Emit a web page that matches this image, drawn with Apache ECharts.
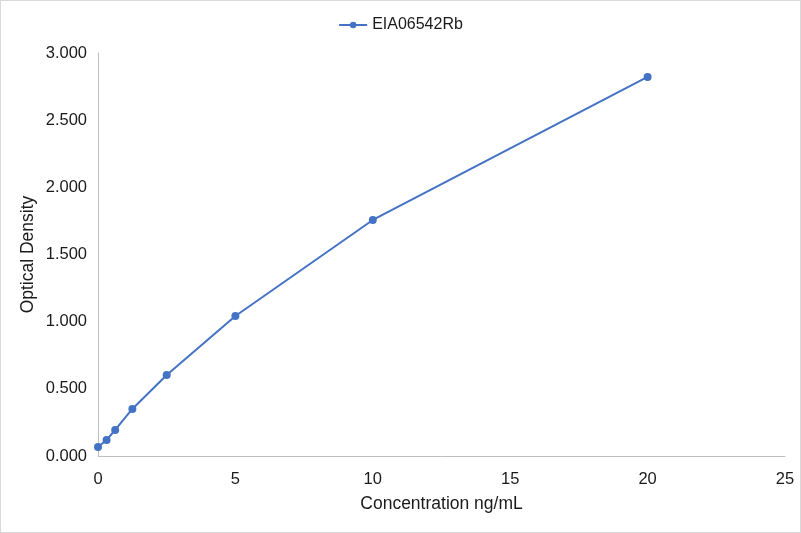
<!DOCTYPE html>
<html>
<head>
<meta charset="UTF-8">
<title>index</title>
<script src="https://cdn.jsdelivr.net/npm/echarts@6/dist/echarts.min.js"></script>
<style>
	html, body { margin: 0; padding: 0; background: #fff; }
	#main { width: 799px; height: 531px; border: 1px solid #d9d9d9; }
</style>
</head>
<body>
<div id="main"></div>
<script>
	const seriesName = 'EIA06542Rb'
	const concentration = [0, 0.3125, 0.625, 1.25, 2.5, 5, 10, 20]
	const density = [0.067, 0.119, 0.194, 0.350, 0.603, 1.042, 1.757, 2.822]

	let points = []
	for (let i = 0; i < concentration.length; i++) {
		points.push([concentration[i], density[i]])
	}

	let chart = echarts.init(document.getElementById('main'))
	let font = 'Liberation Sans, Arial, sans-serif'
	let txt = '#1a1a1a'
	chart.setOption({
		animation: false,
		legend: {
			top: 11,
			left: 'center',
			itemWidth: 28,
			itemHeight: 8,
			itemGap: 6,
			textStyle: { fontFamily: font, fontSize: 16, color: txt },
			data: [seriesName]
		},
		grid: { left: 97, right: 15, top: 52, bottom: 76 },
		xAxis: {
			type: 'value',
			min: 0, max: 25, interval: 5,
			name: 'Concentration ng/mL',
			nameLocation: 'middle',
			nameGap: 39,
			nameTextStyle: { fontFamily: font, fontSize: 17.5, color: txt },
			axisLine: { lineStyle: { color: '#bfbfbf' } },
			axisTick: { show: false },
			splitLine: { show: false },
			axisLabel: { fontFamily: font, fontSize: 16.5, color: txt, margin: 15 }
		},
		yAxis: {
			type: 'value',
			min: 0, max: 3, interval: 0.5,
			name: 'Optical Density',
			nameLocation: 'middle',
			nameGap: 61,
			nameMoveOverlap: false,
			nameTextStyle: { fontFamily: font, fontSize: 17.5, color: txt },
			axisLine: { show: true, lineStyle: { color: '#bfbfbf' } },
			axisTick: { show: false },
			splitLine: { show: false },
			axisLabel: {
				fontFamily: font, fontSize: 16.5, color: txt, margin: 11,
				formatter: v => v.toFixed(3)
			}
		},
		series: [{
			name: seriesName,
			type: 'line',
			data: points,
			symbol: 'circle',
			symbolSize: 8,
			itemStyle: { color: '#4472c4' },
			lineStyle: { color: '#4472c4', width: 2 }
		}]
	})
</script>
</body>
</html>
